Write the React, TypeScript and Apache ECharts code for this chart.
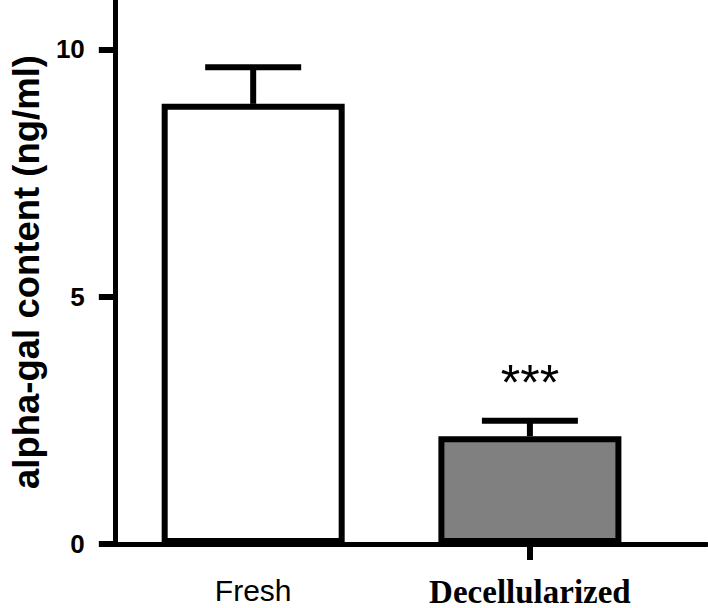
import React, { useEffect, useRef } from 'react';
import * as echarts from 'echarts';

const categories = ['Fresh', 'Decellularized'];
const means = [8.9, 2.18];
const upperErrors = [0.74, 0.31];
const significance = ['', '***'];
const barColors = ['#ffffff', '#808080'];
const yTicks = [0, 5, 10];
const xTickPositions = [1];

export default function App() {
  const ref = useRef<HTMLDivElement>(null);
  useEffect(() => {
    document.body.style.margin = '0';
    document.documentElement.style.overflow = 'hidden';
    const chart = echarts.init(ref.current!, null, { renderer: 'svg' });
    const barData = means.map((v, i) => ({ value: [i, v], itemStyle: { color: barColors[i] } }));
    const errData = means.map((v, i) => [i, v, v + upperErrors[i]]);
    chart.setOption({
      animation: false,
      grid: { left: 113, right: 1, top: 0, bottom: 58.5 },
      xAxis: {
        type: 'value',
        min: -0.5,
        max: 1.64,
        splitLine: { show: false },
        axisLine: { show: true, onZero: false, lineStyle: { color: '#000', width: 5 } },
        axisTick: { show: true, customValues: xTickPositions, length: 16, lineStyle: { color: '#000', width: 6 } },
        axisLabel: {
          customValues: [0, 1],
          margin: 31,
          formatter: (v: number) => {
            const i = Math.round(v);
            return i === 0 ? `{a|${categories[0]}}` : `{b|${categories[1]}}`;
          },
          rich: {
            a: { fontFamily: 'Arial, "Liberation Sans"', fontSize: 30, color: '#000' },
            b: { fontFamily: '"Times New Roman", "Liberation Serif"', fontWeight: 'bold', fontSize: 33, color: '#000' },
          },
        },
      },
      yAxis: {
        type: 'value',
        min: 0,
        max: 11,
        name: 'alpha-gal content (ng/ml)',
        nameLocation: 'middle',
        nameGap: 53,
        nameTextStyle: { fontFamily: 'Arial, "Liberation Sans"', fontWeight: 'bold', fontSize: 36.5, color: '#000' },
        splitLine: { show: false },
        axisLine: { show: true, onZero: false, lineStyle: { color: '#000', width: 5 } },
        axisTick: { show: true, customValues: yTicks, length: 16, lineStyle: { color: '#000', width: 6 } },
        axisLabel: {
          customValues: yTicks,
          margin: 30,
          fontFamily: 'Arial, "Liberation Sans"',
          fontWeight: 'bold',
          fontSize: 26,
          color: '#000',
        },
      },
      series: [
        {
          type: 'custom',
          data: errData,
          encode: { x: 0, y: [1, 2] },
          z: 1,
          renderItem: (params: any, api: any) => {
            const i = api.value(0);
            const lo = api.coord([i, api.value(1)]);
            const hi = api.coord([i, api.value(2)]);
            const half = 48;
            const children: any[] = [
              { type: 'line', shape: { x1: lo[0], y1: lo[1], x2: hi[0], y2: hi[1] }, style: { stroke: '#000', lineWidth: 6 } },
              { type: 'line', shape: { x1: hi[0] - half, y1: hi[1], x2: hi[0] + half, y2: hi[1] }, style: { stroke: '#000', lineWidth: 6 } },
            ];
            const s = significance[params.dataIndex];
            if (s) {
              children.push({
                type: 'text',
                x: hi[0],
                y: hi[1] - 38,
                style: { text: s, fontFamily: 'Arial, "Liberation Sans"', fontSize: 50, fill: '#000', align: 'center', verticalAlign: 'middle' },
              });
            }
            return { type: 'group', children };
          },
        },
        {
          type: 'bar',
          data: barData,
          barWidth: 183,
          z: 2,
          itemStyle: { borderColor: '#000', borderWidth: 6 },
        },
      ],
    });
    return () => chart.dispose();
  }, []);
  return <div ref={ref} style={{ width: 708, height: 608 }} />;
}
